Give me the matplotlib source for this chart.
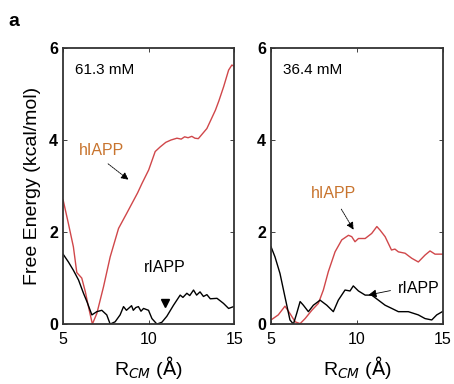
import matplotlib
matplotlib.use('Agg')
import matplotlib.pyplot as plt

plt.rcParams['font.family'] = ['Liberation Sans', 'DejaVu Sans']

# --- data: left panel (61.3 mM) ---
h1_x = [5.0, 5.3, 5.6, 5.8, 6.09, 6.3, 6.48, 6.71, 6.97, 7.36, 7.75, 8.24, 8.72, 8.92,
        9.35, 9.6, 10.0, 10.38, 10.67, 11.0, 11.3, 11.65, 11.9, 12.1, 12.3, 12.52, 12.7,
        12.9, 13.4, 13.9, 14.1, 14.38, 14.67, 14.86, 15.0]
h1_y = [2.7, 2.2, 1.68, 1.12, 1.0, 0.7, 0.38, 0.0, 0.23, 0.81, 1.46, 2.08, 2.41, 2.55,
        2.85, 3.05, 3.35, 3.75, 3.85, 3.95, 4.0, 4.04, 4.02, 4.07, 4.05, 4.08, 4.04,
        4.03, 4.25, 4.65, 4.85, 5.16, 5.52, 5.63, 5.6]
r1_x = [5.0, 5.31, 5.6, 5.9, 6.19, 6.39, 6.68, 6.97, 7.26, 7.55, 7.75, 8.04, 8.33, 8.53,
        8.7, 8.82, 9.0, 9.1, 9.25, 9.4, 9.55, 9.7, 9.99, 10.19, 10.48, 10.77, 11.06,
        11.45, 11.84, 12.0, 12.23, 12.4, 12.62, 12.8, 13.0, 13.2, 13.4, 13.6, 13.99,
        14.2, 14.37, 14.67, 14.96]
r1_y = [1.52, 1.35, 1.17, 0.96, 0.67, 0.49, 0.2, 0.27, 0.3, 0.2, 0.0, 0.05, 0.2, 0.38,
        0.3, 0.34, 0.4, 0.3, 0.36, 0.38, 0.28, 0.34, 0.3, 0.12, 0.0, 0.04, 0.17,
        0.41, 0.63, 0.58, 0.67, 0.62, 0.74, 0.63, 0.7, 0.6, 0.64, 0.55, 0.56,
        0.5, 0.45, 0.34, 0.38]

# --- data: right panel (36.4 mM) ---
h2_x = [5.0, 5.42, 5.81, 6.1, 6.4, 6.69, 6.98, 7.37, 7.75, 8.04, 8.33, 8.72, 9.11, 9.5,
        9.69, 9.88, 10.08, 10.47, 10.85, 11.15, 11.34, 11.63, 12.0, 12.2, 12.4, 12.79,
        13.0, 13.18, 13.56, 13.95, 14.24, 14.53, 15.0]
h2_y = [0.09, 0.2, 0.39, 0.23, 0.05, 0.01, 0.12, 0.3, 0.45, 0.74, 1.14, 1.57, 1.83, 1.93,
        1.9, 1.79, 1.86, 1.86, 1.97, 2.12, 2.04, 1.9, 1.61, 1.63, 1.57, 1.54,
        1.48, 1.43, 1.35, 1.5, 1.59, 1.52, 1.52]
r2_x = [5.0, 5.23, 5.52, 5.81, 6.1, 6.3, 6.49, 6.69, 6.88, 7.17, 7.46, 7.85, 8.24, 8.62,
        8.91, 9.3, 9.59, 9.78, 10.08, 10.47, 10.85, 11.24, 11.63, 12.02, 12.4,
        12.98, 13.56, 13.95, 14.34, 14.63, 15.0]
r2_y = [1.68, 1.46, 1.1, 0.59, 0.09, 0.0, 0.23, 0.49, 0.41, 0.27, 0.41, 0.52, 0.41, 0.27,
        0.52, 0.74, 0.72, 0.83, 0.72, 0.63, 0.63, 0.52, 0.41, 0.34, 0.27,
        0.27, 0.2, 0.12, 0.09, 0.2, 0.28]

conc_labels = ['61.3 mM', '36.4 mM']
yticks = [0, 2, 4, 6]
xticks = [5, 10, 15]

RED = '#d0474a'
ORANGE = '#c8742e'

fig = plt.figure(figsize=(4.54, 3.84), dpi=100)
ax1 = fig.add_axes([0.139, 0.156, 0.377, 0.719])
ax2 = fig.add_axes([0.597, 0.156, 0.379, 0.719])

panels = [(ax1, h1_x, h1_y, r1_x, r1_y), (ax2, h2_x, h2_y, r2_x, r2_y)]
for i, (ax, hx, hy, rx, ry) in enumerate(panels):
    ax.plot(hx, hy, color=RED, lw=1.0)
    ax.plot(rx, ry, color='black', lw=1.0)
    ax.set_xlim(5, 15)
    ax.set_ylim(0, 6)
    ax.set_xticks(xticks)
    ax.set_yticks(yticks)
    ax.tick_params(direction='in', length=3, width=0.6, top=True, right=True,
                   labelsize=11.5, colors='#222222', labelcolor='black')
    ax.tick_params(axis='x', pad=6)
    for lab in ax.get_yticklabels():
        lab.set_fontweight('bold')
    for sp in ax.spines.values():
        sp.set_linewidth(1.3)
        sp.set_color('#333333')
    ax.text(0.07, 0.92, conc_labels[i], transform=ax.transAxes, fontsize=11,
            ha='left', va='center')
    ax.set_xlabel(r'R$_{\mathit{CM}}$ ($\mathrm{\AA}$)', fontsize=14, labelpad=5)

ax1.set_ylabel('Free Energy (kcal/mol)', fontsize=14, labelpad=6)

# left panel annotations
ax1.text(7.26, 3.78, 'hIAPP', color=ORANGE, fontsize=11.5, ha='center', va='center')
ax1.annotate('', xy=(8.95, 3.1), xytext=(7.5, 3.52),
             arrowprops=dict(arrowstyle='-|>', color='black', lw=0.6,
                             linestyle=(0, (2, 1)), mutation_scale=11))
ax1.text(10.96, 1.22, 'rIAPP', color='black', fontsize=11.5, ha='center', va='center')
ax1.plot([10.96], [0.45], marker='v', color='black', markersize=5.5)

# right panel annotations
ax2.text(8.62, 2.84, 'hIAPP', color=ORANGE, fontsize=11.5, ha='center', va='center')
ax2.annotate('', xy=(9.88, 2.0), xytext=(9.0, 2.55),
             arrowprops=dict(arrowstyle='-|>', color='black', lw=0.6,
                             linestyle=(0, (2, 1)), mutation_scale=11))
ax2.text(13.6, 0.78, 'rIAPP', color='black', fontsize=11.5, ha='center', va='center')
ax2.annotate('', xy=(10.5, 0.62), xytext=(12.1, 0.74),
             arrowprops=dict(arrowstyle='-|>', color='black', lw=0.6,
                             mutation_scale=12))

fig.text(0.018, 0.945, 'a', fontsize=14, fontweight='bold', ha='left', va='center')

fig.savefig('out.png', dpi=100)
